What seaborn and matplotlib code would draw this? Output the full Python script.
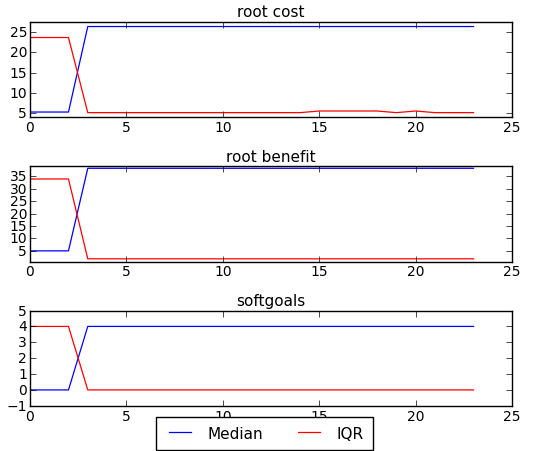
import numpy as np
import pandas as pd
import matplotlib
matplotlib.use('Agg')
import matplotlib.pyplot as plt
import seaborn as sns

# --- data ---
steps = list(range(24))

cost_median = [5.3] * 3 + [26.3] * 21
cost_iqr = [23.6] * 3 + [5.15] * 12 + [5.55] * 4 + [5.15] + [5.55] + [5.15] * 3

benefit_median = [5.0] * 3 + [38.2] * 21
benefit_iqr = [33.9] * 3 + [1.8] * 21

soft_median = [0] * 3 + [4] * 21
soft_iqr = [4] * 3 + [0] * 21

panels = [
    ("root cost", cost_median, cost_iqr, (4.0, 27.4), [5, 10, 15, 20, 25]),
    ("root benefit", benefit_median, benefit_iqr, (0.7, 39.0), [5, 10, 15, 20, 25, 30, 35]),
    ("softgoals", soft_median, soft_iqr, (-1, 5), [-1, 0, 1, 2, 3, 4, 5]),
]

plt.style.use('classic')
plt.rcParams['font.family'] = ['DejaVu Sans']
plt.rcParams['font.size'] = 10
plt.rcParams['lines.linewidth'] = 0.9

fig, axes = plt.subplots(3, 1, figsize=(5.34, 4.52), dpi=100)
fig.patch.set_facecolor('white')
fig.subplots_adjust(left=0.056, right=0.959, bottom=0.100, top=0.949, hspace=0.514)

palette = {'Median': 'b', 'IQR': 'r'}

for ax, (title, med, iqr, ylim, yticks) in zip(axes, panels):
    df = pd.DataFrame({
        'step': steps * 2,
        'value': med + iqr,
        'series': ['Median'] * len(steps) + ['IQR'] * len(steps),
    })
    sns.lineplot(data=df, x='step', y='value', hue='series', palette=palette,
                 ax=ax, legend=False, linewidth=0.9)
    ax.set_facecolor('white')
    ax.set_title(title, fontsize=11, pad=4)
    ax.set_xlabel('')
    ax.set_ylabel('')
    ax.set_xlim(0, 25)
    ax.set_xticks([0, 5, 10, 15, 20, 25])
    ax.set_ylim(*ylim)
    ax.set_yticks(yticks)
    ax.tick_params(labelsize=10, pad=2)

handles = [plt.Line2D([], [], color='b', lw=0.9), plt.Line2D([], [], color='r', lw=0.9)]
fig.legend(handles, ['Median', 'IQR'], loc='upper center', bbox_to_anchor=(0.495, 0.076),
           ncol=2, fontsize=11, frameon=True, fancybox=False, borderpad=0.6,
           borderaxespad=0, handlelength=2.0, columnspacing=2.0)

fig.savefig('out.png', dpi=100, facecolor='white')
